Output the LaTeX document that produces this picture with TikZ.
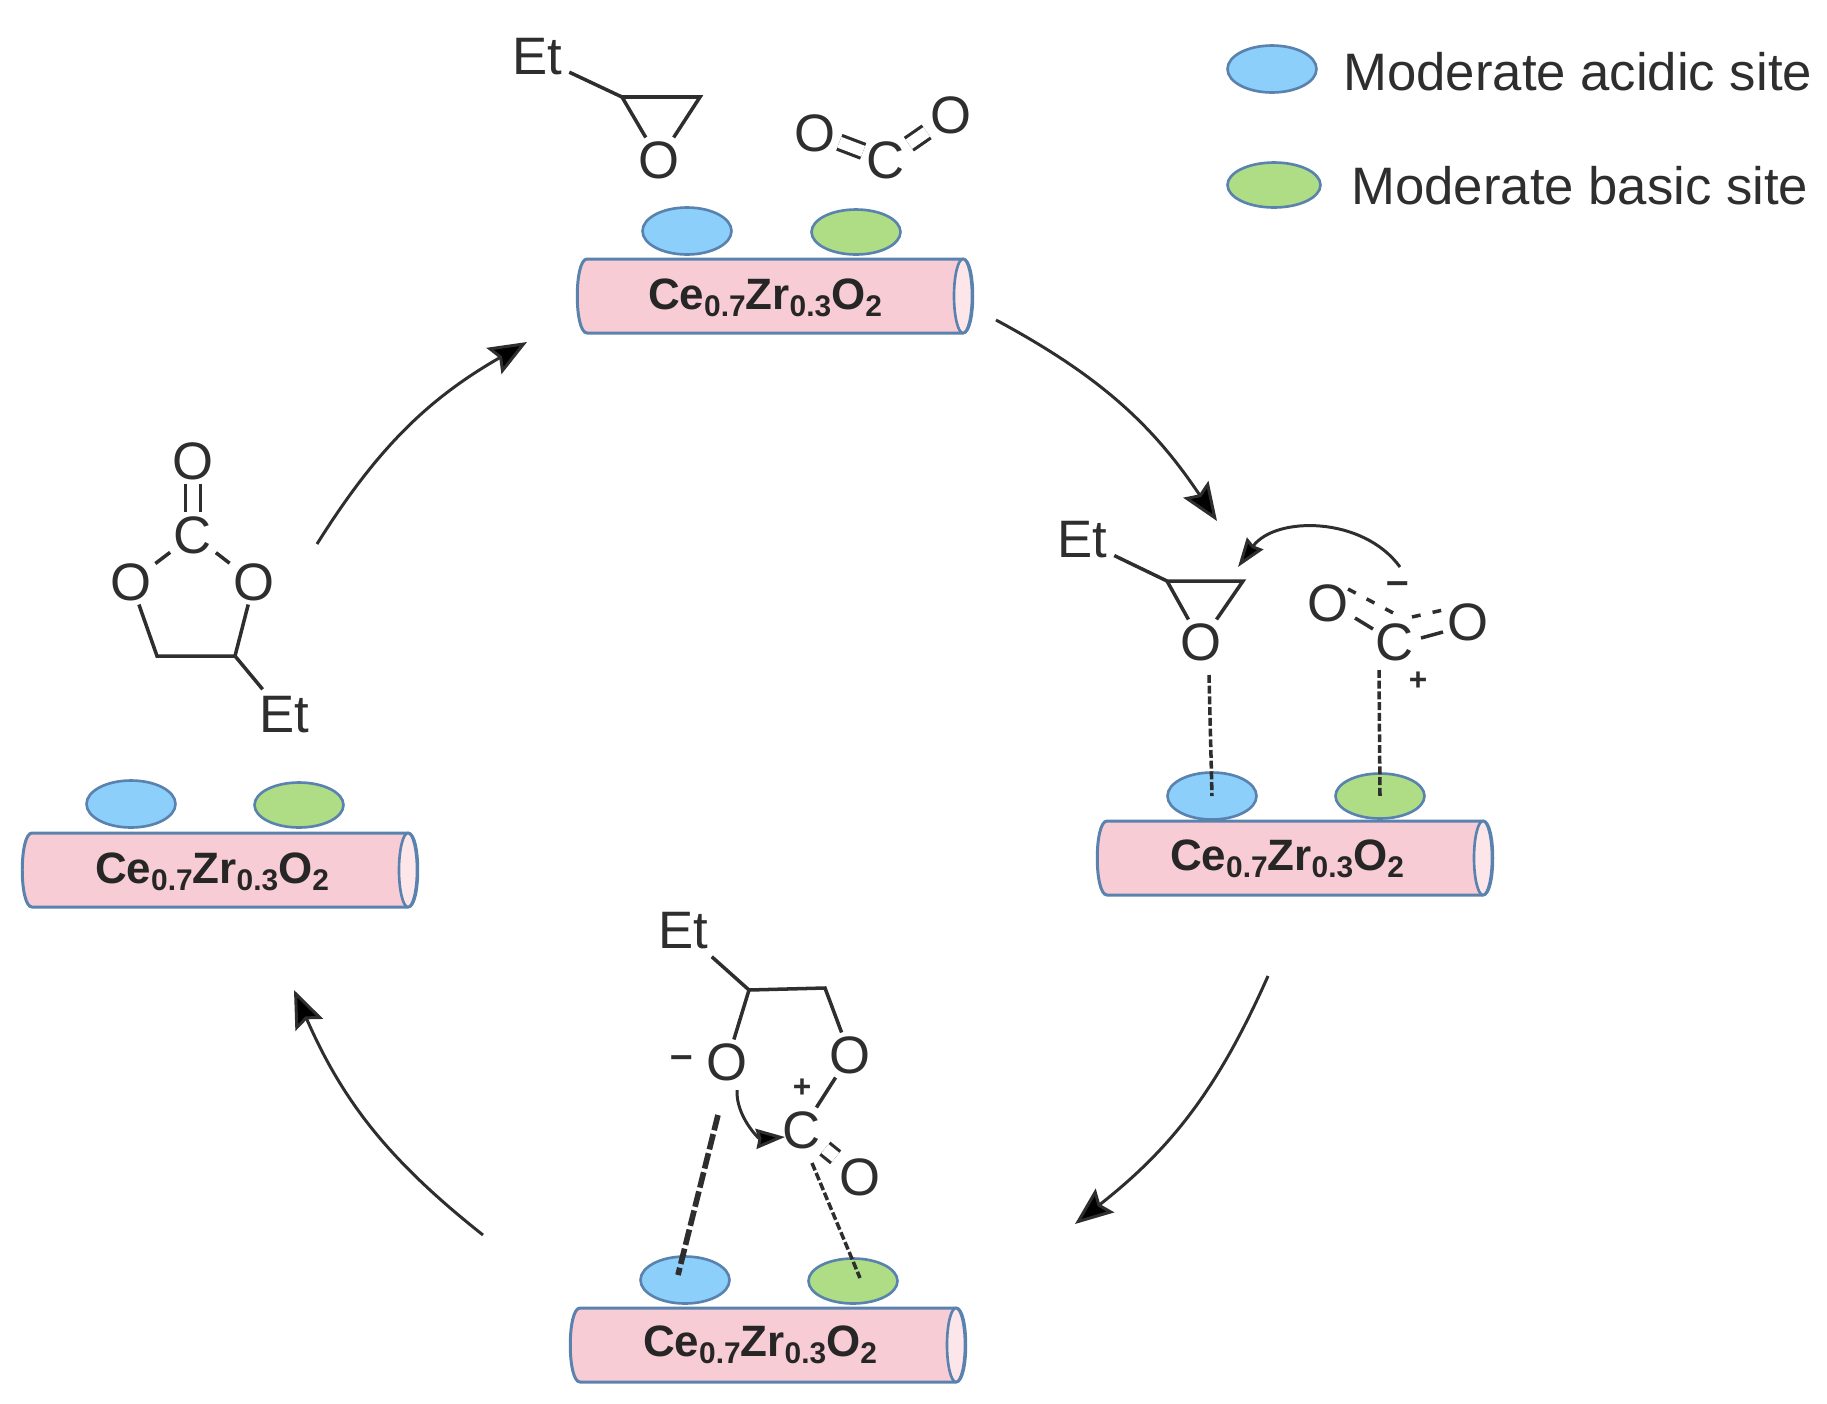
\documentclass[tikz,border=0pt]{standalone}
\usepackage{fontspec}
\setmainfont{Liberation Sans}
\usetikzlibrary{shapes.geometric,arrows.meta}
\definecolor{acidblue}{HTML}{8CCFFB}
\definecolor{basegreen}{HTML}{AEDD85}
\definecolor{edgeblue}{HTML}{5A82AE}
\definecolor{rodpink}{HTML}{F8CCD4}
\definecolor{rodend}{HTML}{FCE6EA}
\definecolor{ink}{HTML}{2E2E2E}
\newcommand\CatLabel{{\fontsize{25}{25}\selectfont\bfseries Ce\raisebox{-4pt}{\fontsize{17}{17}\selectfont 0.7}Zr\raisebox{-4pt}{\fontsize{17}{17}\selectfont 0.3}O\raisebox{-4pt}{\fontsize{17}{17}\selectfont 2}}}
\tikzset{
  rodbody/.style={draw=edgeblue,line width=1.7pt,fill=rodpink},
  rodcap/.style={ellipse,draw=edgeblue,line width=1.5pt,fill=rodend,
    minimum width=0.36cm,minimum height=1.48cm,inner sep=0pt},
  catname/.style={text=black!85,inner sep=0pt},
  acid/.style={ellipse,draw=edgeblue,line width=1.5pt,fill=acidblue,
    minimum width=1.78cm,minimum height=0.94cm,inner sep=0pt},
  base/.style={ellipse,draw=edgeblue,line width=1.5pt,fill=basegreen,
    minimum width=1.78cm,minimum height=0.9cm,inner sep=0pt},
  atom/.style={text=ink,inner sep=2pt,font=\fontsize{30}{30}\selectfont},
  ethyl/.style={atom,inner sep=4pt},
  charge/.style={text=ink,inner sep=0pt,font=\fontsize{18}{18}\selectfont\bfseries},
  minussign/.style={charge,font=\fontsize{23}{23}\selectfont\bfseries},
  legend/.style={text=ink,anchor=west,inner sep=0pt,font=\fontsize{30}{30}\selectfont},
  bond/.style={draw=ink,line width=2pt},
  dbl/.style={draw=ink,line width=1.8pt,double=white,double distance=6.5pt},
  partial/.style={draw=ink,line width=2pt,dash pattern=on 5pt off 7pt},
  sitebond/.style={draw=ink,line width=2pt,dash pattern=on 4.5pt off 1.6pt},
  sitebondbold/.style={draw=ink,line width=3.2pt,dash pattern=on 9pt off 2.2pt},
  cyclearrow/.style={draw=ink,line width=1.7pt,-{Stealth[length=0.76cm,width=0.6cm,inset=0.12cm,fill=black]}},
  pusharrow/.style={draw=ink,line width=1.7pt,-{Stealth[length=0.58cm,width=0.4cm,inset=0.05cm,fill=black]}}
}
% catalyst rod with its two sites
\newcommand\DrawCatalyst[4]{
  \begin{scope}[shift={(#2)}]
    \draw[rodbody] (-188,-37) -- (188,-37) .. controls (201,-37) and (201,37) .. (188,37)
      -- (-188,37) .. controls (-201,37) and (-201,-37) .. (-188,-37) -- cycle;
    \node[rodcap] (cap#1) at (188,0) {};
  \end{scope}
  \node[acid] (acid#1) at (#3) {};
  \node[base] (base#1) at (#4) {};
}
\begin{document}
\begin{tikzpicture}[x=0.02cm,y=-0.02cm]
  \useasboundingbox (0,0) rectangle (1827,1404);

  % legend
  \node[acid] (lgacid) at (1272,69) {};
  \node[base,minimum width=1.86cm] (lgbase) at (1274,185) {};
  \node[legend] (lgacidtext) at (1343,72) {Moderate acidic site};
  \node[legend] (lgbasetext) at (1351,186) {Moderate basic site};

  % top: epoxide and CO2
  \DrawCatalyst{A}{775,296}{687,231}{856,232}
  \node[catname] (catA) at (765,298) {\CatLabel};
  \node[ethyl] (etA) at (537,57) {Et};
  \coordinate (cLA) at (622,97);
  \coordinate (cRA) at (700,97);
  \node[atom] (oxA) at (659,160) {O};
  \node[atom] (olA) at (815,133) {O};
  \node[atom] (ccA) at (886,160) {C};
  \node[atom] (orA) at (951,115) {O};
  \draw[bond] (etA) -- (cLA);
  \draw[bond,line join=miter] (oxA) -- (cLA) -- (cRA) -- (oxA);
  \draw[dbl] (olA) -- (ccA);
  \draw[dbl] (ccA) -- (orA);

  % right: activated species
  \DrawCatalyst{B}{1295,858}{1212,796}{1380,796}
  \node[catname] (catB) at (1287,859) {\CatLabel};
  \node[ethyl] (etB) at (1082,540) {Et};
  \coordinate (cLB) at (1167,581);
  \coordinate (cRB) at (1243,581);
  \node[atom] (oxB) at (1201,642) {O};
  \node[atom] (olB) at (1328,603) {O};
  \node[atom] (ccB) at (1395,642) {C};
  \node[atom] (orB) at (1468,622) {O};
  \node[minussign] (minusB) at (1398,588) {\textendash};
  \node[charge] (plusB) at (1418,681) {+};
  \draw[bond] (etB) -- (cLB);
  \draw[bond,line join=miter] (oxB) -- (cLB) -- (cRB) -- (oxB);
  \coordinate (s1B) at (1355,618);
  \coordinate (s2B) at (1373,629);
  \coordinate (s3B) at (1421,638);
  \coordinate (s4B) at (1443,632);
  \coordinate (p1B) at (1348,589);
  \coordinate (p2B) at (1397,615);
  \coordinate (p3B) at (1412,617);
  \coordinate (p4B) at (1443,610);
  \draw[bond] (s1B) -- (s2B);
  \draw[bond] (s3B) -- (s4B);
  \draw[partial] (p1B) -- (p2B);
  \draw[partial] (p3B) -- (p4B);
  \coordinate (d1B) at (1209,675);
  \coordinate (d2B) at (1379,670);
  \draw[sitebond] (d1B) -- (acidB.center);
  \draw[sitebond] (d2B) -- (baseB.center);
  \coordinate (pushsB) at (1400,567);
  \coordinate (pusheB) at (1238,567);
  \draw[pusharrow] (pushsB) to[bend right=54] (pusheB);

  % bottom: ring opening
  \DrawCatalyst{C}{768,1345}{685,1280}{853,1281}
  \node[catname] (catC) at (760,1345) {\CatLabel};
  \node[ethyl] (etC) at (683,931) {Et};
  \coordinate (c1C) at (749,990);
  \coordinate (c2C) at (825,988);
  \node[atom] (o1C) at (727,1062) {O};
  \node[atom] (o2C) at (850,1055) {O};
  \node[atom] (ccC) at (802,1130) {C};
  \node[atom] (o3C) at (860,1177) {O};
  \node[minussign] (minusC) at (682,1062) {\textendash};
  \node[charge] (plusC) at (802,1088) {+};
  \draw[bond] (etC) -- (c1C);
  \draw[bond] (o1C) -- (c1C) -- (c2C) -- (o2C);
  \draw[bond] (ccC) -- (o2C);
  \draw[dbl] (ccC) -- (o3C);
  \coordinate (d1C) at (718,1115);
  \coordinate (d2C) at (812,1163);
  \coordinate (e1C) at (678,1275);
  \coordinate (e2C) at (860,1278);
  \draw[sitebondbold] (d1C) -- (e1C);
  \draw[sitebond] (d2C) -- (e2C);
  \coordinate (pushsC) at (737,1090);
  \coordinate (pusheC) at (785,1137);
  \draw[pusharrow] (pushsC) to[bend right=48] (pusheC);

  % left: cyclic carbonate
  \DrawCatalyst{D}{220,870}{131,804}{299,805}
  \node[catname] (catD) at (212,872) {\CatLabel};
  \node[atom] (otD) at (193,461) {O};
  \node[atom] (ccD) at (193,535) {C};
  \node[atom] (o1D) at (131,582) {O};
  \node[atom] (o2D) at (254,582) {O};
  \coordinate (c1D) at (157,656);
  \coordinate (c2D) at (235,656);
  \node[ethyl] (etD) at (284,715) {Et};
  \draw[dbl] (otD) -- (ccD);
  \draw[bond] (o1D) -- (ccD) -- (o2D);
  \draw[bond] (o1D) -- (c1D) -- (c2D) -- (o2D);
  \draw[bond] (c2D) -- (etD);

  % catalytic cycle
  \coordinate (a1) at (996,320);
  \coordinate (a2) at (1217,521);
  \coordinate (b1) at (1268,976);
  \coordinate (b2) at (1075,1224);
  \coordinate (c1) at (483,1235);
  \coordinate (c2) at (294,990);
  \coordinate (d1) at (317,544);
  \coordinate (d2) at (527,342);
  \draw[cyclearrow] (a1) to[bend left=14] (a2);
  \draw[cyclearrow] (b1) to[bend left=14] (b2);
  \draw[cyclearrow] (c1) to[bend left=14] (c2);
  \draw[cyclearrow] (d1) to[bend left=14] (d2);
\end{tikzpicture}
\end{document}
